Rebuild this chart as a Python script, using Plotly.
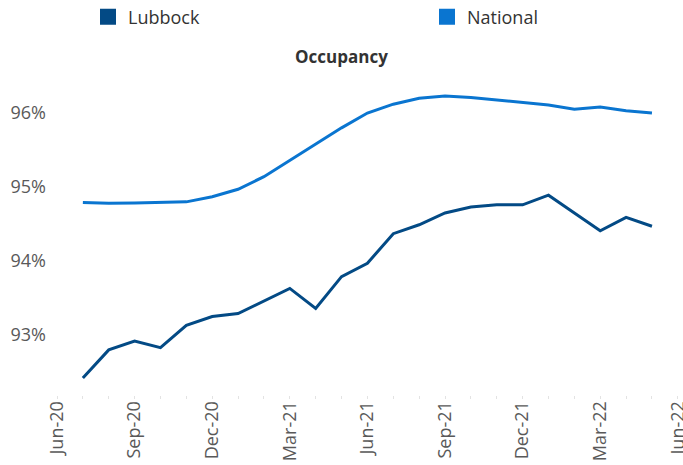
import plotly.graph_objects as go

months = ["Jun-20", "Jul-20", "Aug-20", "Sep-20", "Oct-20", "Nov-20", "Dec-20",
          "Jan-21", "Feb-21", "Mar-21", "Apr-21", "May-21", "Jun-21", "Jul-21",
          "Aug-21", "Sep-21", "Oct-21", "Nov-21", "Dec-21", "Jan-22", "Feb-22",
          "Mar-22", "Apr-22", "May-22", "Jun-22"]
data_months = months[1:24]

lubbock = [92.42, 92.80, 92.92, 92.83, 93.13, 93.25, 93.29, 93.46, 93.63, 93.36, 93.79,
           93.97, 94.37, 94.49, 94.65, 94.73, 94.76, 94.76, 94.89, 94.65, 94.41, 94.59, 94.47]
national = [94.79, 94.78, 94.785, 94.79, 94.80, 94.87, 94.97, 95.14, 95.36, 95.57, 95.80,
            96.00, 96.12, 96.20, 96.23, 96.21, 96.18, 96.15, 96.11, 96.05, 96.08, 96.03, 96.00]

y_ticks = [93, 94, 95, 96]
y_tick_text = [f"{v}%" for v in y_ticks]
x_tick_months = months[::3]

c_lub = "#034A85"
c_nat = "#0A75D0"

x_idx = [months.index(m) for m in data_months]
x_tickvals = [months.index(m) for m in x_tick_months]

fig = go.Figure()
fig.add_trace(go.Scatter(x=x_idx, y=lubbock, mode="lines", name="Lubbock",
                         line=dict(color=c_lub, width=3), showlegend=False))
fig.add_trace(go.Scatter(x=x_idx, y=national, mode="lines", name="National",
                         line=dict(color=c_nat, width=3), showlegend=False))
# legend entries with square swatches
fig.add_trace(go.Scatter(x=[None], y=[None], mode="markers", name="Lubbock",
                         marker=dict(symbol="square", size=16, color=c_lub),
                         legend="legend"))
fig.add_trace(go.Scatter(x=[None], y=[None], mode="markers", name="National",
                         marker=dict(symbol="square", size=16, color=c_nat),
                         legend="legend2"))

legend_common = dict(orientation="h", xref="container", xanchor="left",
                     yref="container", yanchor="middle", y=1 - 17 / 465,
                     bgcolor="rgba(0,0,0,0)",
                     font=dict(size=18, color="#333333", family="Open Sans"))

fig.update_layout(
    width=683, height=465,
    margin=dict(l=57, r=0, t=83, b=70, autoexpand=False),
    paper_bgcolor="white", plot_bgcolor="white",
    font=dict(family="Open Sans", color="#595959"),
    title=dict(text="<b>Occupancy</b>", x=0.5, xref="container", xanchor="center",
               y=1 - 57 / 465, yref="container", yanchor="middle",
               font=dict(size=17, color="#333333", family="Open Sans")),
    legend=dict(x=88 / 683, **legend_common),
    legend2=dict(x=427 / 683, **legend_common),
    xaxis=dict(range=[0, 24.2], tickvals=x_tickvals, ticktext=x_tick_months,
               tickangle=-90, showgrid=False, zeroline=False, showline=False,
               ticks="outside", ticklen=3, tickcolor="#e3e3e3",
               minor=dict(dtick=1, ticks="outside", ticklen=3, tickcolor="#e3e3e3", showgrid=False),
               ticklabelstandoff=-5, ticklabeloverflow="allow",
               tickfont=dict(size=18, color="#595959")),
    yaxis=dict(range=[92.19, 96.406], tickvals=y_ticks, ticktext=y_tick_text,
               showgrid=False, zeroline=False, showline=False, ticks="",
               ticklabelstandoff=10,
               tickfont=dict(size=18, color="#595959")),
)

fig.write_html("out.html", config={"displayModeBar": False},
               post_script="document.body.style.margin='0';document.body.style.overflow='hidden';")
